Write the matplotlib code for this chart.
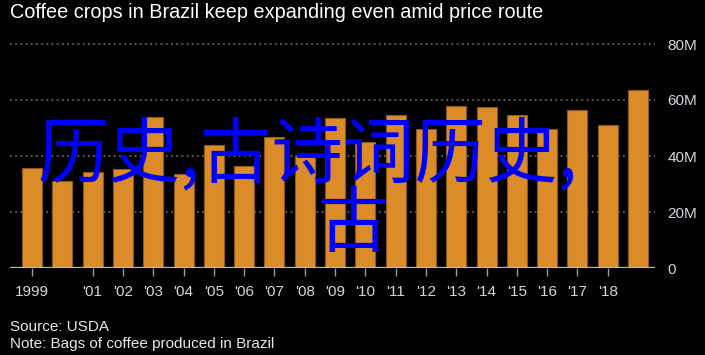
import matplotlib
matplotlib.use("Agg")
import matplotlib.pyplot as plt
from matplotlib import font_manager as fm

years = list(range(1999, 2020))
values = [35.8, 31.1, 34.2, 35.4, 53.8, 33.5, 43.9, 36.3, 46.9, 40.0, 53.5,
          45.0, 54.6, 49.5, 57.9, 57.4, 54.6, 49.5, 56.3, 51.1, 63.5]
tick_years = [1999] + list(range(2001, 2019))
tick_labels = ["1999"] + ["'%02d" % (y % 100) for y in range(2001, 2019)]
y_ticks = [0, 20, 40, 60, 80]
y_labels = ["0", "20M", "40M", "60M", "80M"]

title = "Coffee crops in Brazil keep expanding even amid price route"
source = "Source: USDA"
note = "Note: Bags of coffee produced in Brazil"
overlay1 = "历史,古诗词历史,"
overlay2 = "古"

sans = ["Liberation Sans", "DejaVu Sans"]

W, H = 705, 355
fig = plt.figure(figsize=(W / 100, H / 100), dpi=100, facecolor="black")
ax = fig.add_axes([10 / W, 1 - 268 / H, 645 / W, 224 / H], facecolor="black")

x = [y - 1999 for y in years]
ax.bar(x, values, width=0.66, color="#db8b28", edgecolor="#8c5a1e",
       linewidth=0.8, zorder=3)

ax.set_xlim(-0.726, 20.56)
ax.set_ylim(0, 80)
for v in y_ticks[1:]:
    ax.axhline(v, color="#777777", linestyle=(0, (1.2, 2.2)), linewidth=1.1,
               zorder=1, clip_on=False)
ax.axhline(0, color="#bbbbbb", linewidth=1.6, zorder=4)

for s in ax.spines.values():
    s.set_visible(False)

ax.set_xticks([y - 1999 for y in tick_years])
ax.set_xticklabels(tick_labels, family=sans, fontsize=11, color="#d0d8e0")
ax.tick_params(axis="x", length=6, width=1, color="#999999", pad=6)

ax.yaxis.tick_right()
ax.set_yticks(y_ticks)
ax.set_yticklabels(y_labels, family=sans, fontsize=11, color="#d0d8e0")
ax.tick_params(axis="y", length=0, pad=9)

fig.text(10 / W, 1 - 13 / H, title, color="white", fontsize=14.3,
         family=sans, va="center", ha="left")
fig.text(10 / W, 1 - 327 / H, source, color="#e8e8e8", fontsize=11,
         family=sans, va="center", ha="left")
fig.text(10 / W, 1 - 344 / H, note, color="#e8e8e8", fontsize=11,
         family=sans, va="center", ha="left")

cjk = ["Noto Sans CJK SC", "DejaVu Sans"]
fig.text(37 / W, 1 - 176 / H, overlay1, color="#0000ff", fontsize=51.5,
         family=cjk, va="baseline", ha="left", zorder=10)
fig.text(317 / W, 1 - 246 / H, overlay2, color="#0000ff", fontsize=51.5,
         family=cjk, va="baseline", ha="left", zorder=10)

fig.savefig("out.png", dpi=100, facecolor="black")
